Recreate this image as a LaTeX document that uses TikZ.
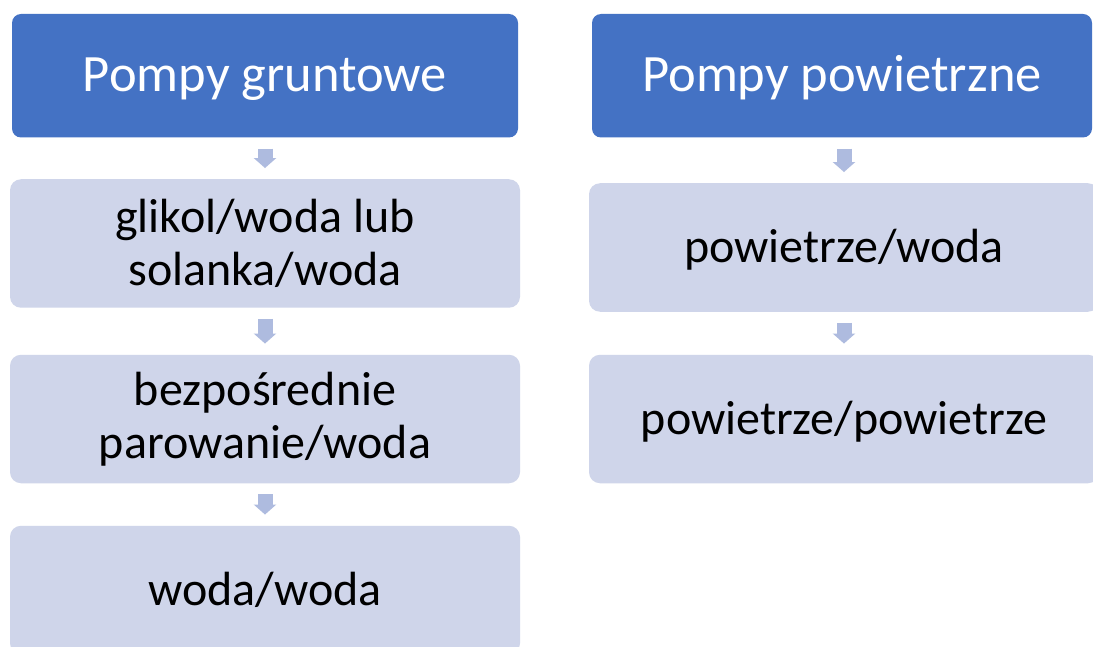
\documentclass[tikz,border=0pt]{standalone}
\usepackage{fontspec}
\setmainfont{Carlito}
\usetikzlibrary{arrows.meta}
\definecolor{hdrblue}{HTML}{4472C4}
\definecolor{boxfill}{HTML}{CFD5EA}
\definecolor{arrfill}{HTML}{AEBBDF}
\tikzset{
  hdr/.style={draw=none, fill=hdrblue, rounded corners=9pt, text=white,
    minimum height=123.5pt, inner sep=0pt, align=center,
    text height=32pt, text depth=0pt,
    font=\fontsize{52.5}{62}\selectfont},
  itembox/.style={draw=none, fill=boxfill, rounded corners=11pt, text=black,
    minimum width=510pt, minimum height=128.5pt, inner sep=0pt, align=center,
    font=\fontsize{48}{53}\selectfont},
  oneline/.style={text height=31pt, text depth=0pt},
  flowarrow/.style={draw=arrfill, line width=15pt,
    -{Triangle[width=22pt,length=10pt]}, shorten <=11pt, shorten >=11pt}
}
\begin{document}
\begin{tikzpicture}[x=1pt,y=-1pt]
\useasboundingbox (0,0) rectangle (1093,647);
\clip (0,0) rectangle (1093,647);
\fill[white] (0,0) rectangle (1093,647);
% left column
\node[hdr, minimum width=506pt] (h1) at (265,75.75) {Pompy gruntowe};
\node[itembox] (b1) at (265,243.5) {glikol/woda lub\\solanka/woda};
\node[itembox] (b2) at (265,419) {bezpośrednie\\parowanie/woda};
\node[itembox, oneline] (b3) at (265,590) {woda/woda};
% right column
\node[hdr, minimum width=500pt] (h2) at (842,75.75) {Pompy powietrzne};
\node[itembox, oneline] (r1) at (844,247.5) {powietrze/woda};
\node[itembox, oneline] (r2) at (844,419) {powietrze/powietrze};
% arrows
\draw[flowarrow] (h1.south) -- (b1.north);
\draw[flowarrow] (b1.south) -- (b2.north);
\draw[flowarrow] (b2.south) -- (b3.north);
\draw[flowarrow] (h2.south -| r1.north) -- (r1.north);
\draw[flowarrow] (r1.south) -- (r2.north);
\end{tikzpicture}
\end{document}
